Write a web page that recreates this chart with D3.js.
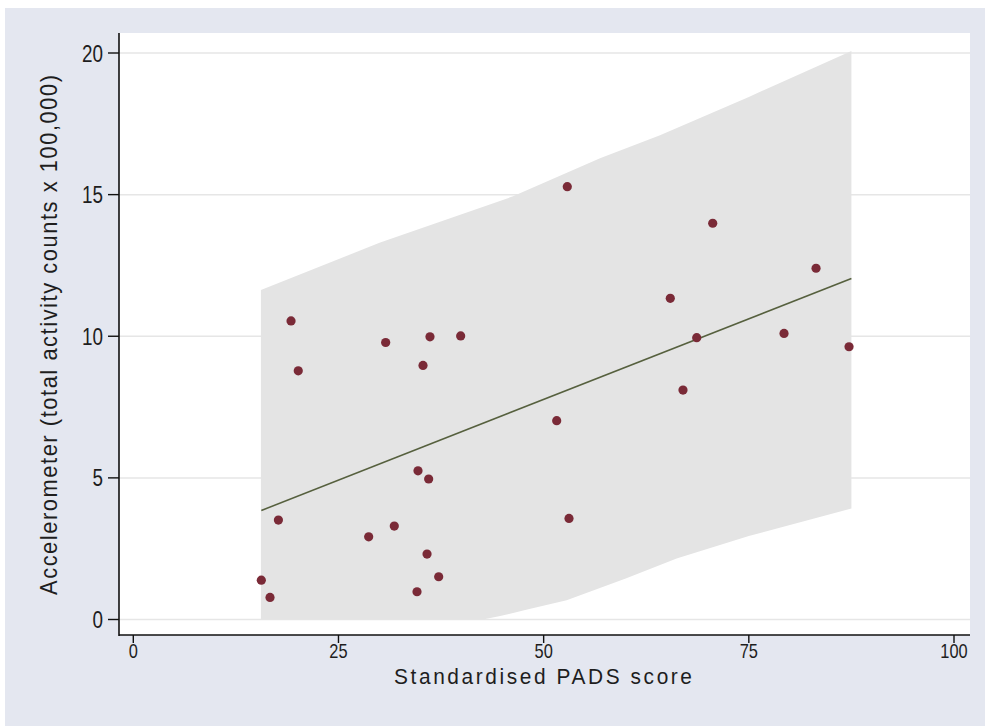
<!DOCTYPE html>
<html>
<head>
<meta charset="utf-8">
<script src="https://cdn.jsdelivr.net/npm/d3@7"></script>
<style>
  html, body { margin: 0; padding: 0; background: #ffffff; }
  svg { display: block; }
  .lbl { font-family: "Liberation Sans", Arial, sans-serif; fill: #1e1e1e; }
</style>
</head>
<body>
<svg id="chart" width="985" height="726"></svg>
<script>
// Observations: standardised PADS score vs accelerometer counts (x 100,000)
const padsScore = [15.6, 16.66, 17.68, 19.22, 20.1, 28.68, 30.75, 31.8, 34.57, 34.69,
                   35.3, 35.79, 36.15, 35.99, 37.21, 39.89, 51.59, 52.88, 53.09, 65.43,
                   66.98, 68.65, 70.6, 79.29, 83.19, 87.21];
const accelCounts = [1.39, 0.78, 3.51, 10.54, 8.78, 2.92, 9.78, 3.3, 0.98, 5.25,
                     8.97, 2.31, 9.98, 4.96, 1.51, 10.01, 7.02, 15.28, 3.57, 11.34,
                     8.1, 9.95, 13.99, 10.1, 12.4, 9.63];

// Fitted line end points
const fitX = [15.6, 87.5];
const fitY = [3.85, 12.04];

// Prediction band (upper and lower limits)
const bandX     = [15.55, 30.0, 46.27, 56.87, 64.18, 75.0, 87.5];
const bandUpper = [11.63, 13.30, 14.94, 16.28, 17.10, 18.45, 20.07];
const bandLowerX = [15.55, 42.6, 44.7, 48.0, 52.8, 60.0, 66.2, 75.0, 87.5];
const bandLower  = [0, 0.0, 0.12, 0.35, 0.68, 1.45, 2.15, 2.95, 3.92];

// Axis ticks
const xTicks = [0, 25, 50, 75, 100];
const yTicks = [0, 5, 10, 15, 20];
const xTitle = "Standardised PADS score";
const yTitle = "Accelerometer (total activity counts x 100,000)";

const svg = d3.select("#chart");
const digitSqueeze = 0.82;   // tick numerals are tall and narrow
const titleSqueeze = 0.95;

// outer graph region
svg.append("rect").attr("x", 5).attr("y", 8).attr("width", 980).attr("height", 718)
   .attr("fill", "#e4e7f0");

// plot region
const plot = { left: 119, right: 970, top: 33, bottom: 635 };
svg.append("rect").attr("x", plot.left).attr("y", plot.top)
   .attr("width", plot.right - plot.left).attr("height", plot.bottom - plot.top)
   .attr("fill", "#ffffff");

const x = d3.scaleLinear().domain([0, 100]).range([133.3, 954]);
const y = d3.scaleLinear().domain([0, 20]).range([619.5, 53]);

// horizontal grid lines
svg.append("g").selectAll("line").data(yTicks).join("line")
   .attr("x1", plot.left).attr("x2", plot.right)
   .attr("y1", d => y(d)).attr("y2", d => y(d))
   .attr("stroke", "#e6e6e6").attr("stroke-width", 1.5);

// prediction band
const upperPts = bandX.map((v, i) => [v, bandUpper[i]]);
const lowerPts = bandLowerX.map((v, i) => [v, bandLower[i]]).reverse();
const bandPath = d3.line().x(d => x(d[0])).y(d => y(d[1]));
svg.append("path")
   .attr("d", bandPath(upperPts.concat(lowerPts)) + "Z")
   .attr("fill", "#e4e4e4");

// fitted line
svg.append("path")
   .attr("d", d3.line().x(d => x(d[0])).y(d => y(d[1]))(fitX.map((v, i) => [v, fitY[i]])))
   .attr("fill", "none").attr("stroke", "#56603e").attr("stroke-width", 1.6);

// observations
svg.append("g").selectAll("circle").data(padsScore).join("circle")
   .attr("cx", d => x(d)).attr("cy", (d, i) => y(accelCounts[i]))
   .attr("r", 4.6).attr("fill", "#7a2a37");

// y axis: line, ticks, labels
const gy = svg.append("g");
gy.append("line").attr("x1", plot.left).attr("x2", plot.left).attr("y1", plot.top).attr("y2", plot.bottom + 1)
  .attr("stroke", "#111").attr("stroke-width", 1.6);
gy.selectAll("line.tk").data(yTicks).join("line").attr("class", "tk")
  .attr("x1", plot.left - 11).attr("x2", plot.left).attr("y1", d => y(d)).attr("y2", d => y(d))
  .attr("stroke", "#111").attr("stroke-width", 1.4);
gy.selectAll("text").data(yTicks).join("text").attr("class", "lbl")
  .attr("transform", d => `translate(${plot.left - 16},${y(d) + 8.5}) scale(${digitSqueeze},1)`)
  .attr("text-anchor", "end").attr("font-size", 23).text(d => d3.format("d")(d));

// x axis: line, ticks, labels
const gx = svg.append("g");
gx.append("line").attr("x1", plot.left).attr("x2", plot.right).attr("y1", plot.bottom).attr("y2", plot.bottom)
  .attr("stroke", "#111").attr("stroke-width", 1.6);
gx.selectAll("line.tk").data(xTicks).join("line").attr("class", "tk")
  .attr("x1", d => x(d)).attr("x2", d => x(d)).attr("y1", plot.bottom).attr("y2", plot.bottom + 8)
  .attr("stroke", "#111").attr("stroke-width", 1.4);
gx.selectAll("text").data(xTicks).join("text").attr("class", "lbl")
  .attr("transform", d => `translate(${x(d)},${plot.bottom + 23}) scale(${digitSqueeze},1)`)
  .attr("text-anchor", "middle").attr("font-size", 20).text(d => d3.format("d")(d));

// axis titles
svg.append("text").attr("class", "lbl")
   .attr("transform", `translate(543,684) scale(${titleSqueeze},1)`)
   .attr("text-anchor", "middle").attr("font-size", 22)
   .attr("textLength", 298 / titleSqueeze).attr("lengthAdjust", "spacing")
   .text(xTitle);
svg.append("text").attr("class", "lbl")
   .attr("transform", `translate(57,335) rotate(-90) scale(${titleSqueeze},1)`)
   .attr("text-anchor", "middle").attr("font-size", 23)
   .attr("textLength", 520 / titleSqueeze).attr("lengthAdjust", "spacing")
   .text(yTitle);
</script>
</body>
</html>
